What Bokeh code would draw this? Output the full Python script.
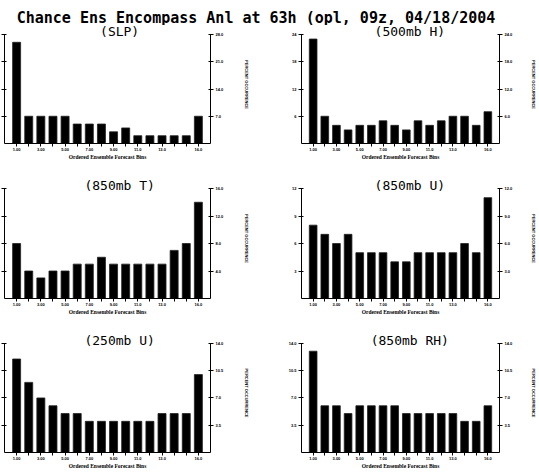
from bokeh.plotting import figure
from bokeh.models import Label, LinearAxis, FixedTicker, Range1d, NumeralTickFormatter, CustomJSTickFormatter
from bokeh.layouts import column, row
from bokeh.embed import file_html
from bokeh.resources import INLINE

# ---------------- data ----------------
main_title = "Chance Ens Encompass Anl at 63h (opl, 09z, 04/18/2004"
bins = list(range(1, 17))
x_tick_labels = {1: "1.00", 3: "3.00", 5: "5.00", 7: "7.00", 9: "9.00",
                 11: "11.0", 13: "13.0", 16: "16.0"}
x_axis_title = "Ordered Ensemble Forecast Bins"
y_axis_title = "PERCENT OCCURRENCE"

names = ["(SLP)", "(500mb H)", "(850mb T)", "(850mb U)", "(250mb U)", "(850mb RH)"]

slp = [26, 7, 7, 7, 7, 5, 5, 5, 3, 4, 2, 2, 2, 2, 2, 7]
h500 = [23, 6, 4, 3, 4, 4, 5, 4, 3, 5, 4, 5, 6, 6, 4, 7]
t850 = [8, 4, 3, 4, 4, 5, 5, 6, 5, 5, 5, 5, 5, 7, 8, 14]
u850 = [8, 7, 6, 7, 5, 5, 5, 4, 4, 5, 5, 5, 5, 6, 5, 11]
u250 = [12, 9, 7, 6, 5, 5, 4, 4, 4, 4, 4, 4, 5, 5, 5, 10]
rh850 = [13, 6, 6, 5, 6, 6, 6, 6, 5, 5, 5, 5, 5, 4, 4, 6]

slp_ticks = [7, 14, 21, 28]
h500_ticks = [6, 12, 18, 24]
t850_ticks = [4, 8, 12, 16]
u850_ticks = [3, 6, 9, 12]
u250_ticks = [3.5, 7, 10.5, 14]
rh850_ticks = [3.5, 7, 10.5, 14]

series = [slp, h500, t850, u850, u250, rh850]
ticks = [slp_ticks, h500_ticks, t850_ticks, u850_ticks, u250_ticks, rh850_ticks]
left_formats = ["0", "0", "0", "0", "0.0", "0.0"]

# ---------------- style ----------------
TICK_FONT = "Liberation Sans"
ROW_H = [153, 155, 138]
BOTTOM = [35, 35, 18]
FRAME_H = [118, 120, 120]   # frame height in px (plot area + headroom for subtitle)
PLOT_H = [109, 110, 110]


def style_axis(ax, tick_out, tick_in, standoff):
    ax.major_label_text_font = TICK_FONT
    ax.major_label_text_font_style = "bold"
    ax.major_label_text_font_size = "4px"
    ax.major_label_text_color = "black"
    ax.major_label_standoff = standoff
    ax.major_tick_out = tick_out
    ax.major_tick_in = tick_in
    ax.minor_tick_line_color = None
    ax.axis_line_color = "black"
    ax.major_tick_line_color = "black"


def make_panel(i):
    col = i % 2
    r = i // 2
    counts = series[i]
    yt = ticks[i]
    ymax = yt[-1]
    if col == 0:
        w, mbl, mbr, sub_x, ylab_standoff = 270, 4, 60, 9.5, 18
    else:
        w, mbl, mbr, sub_x, ylab_standoff = 269, 31, 32, 9.3, 16
    p = figure(width=w, height=ROW_H[r], x_range=Range1d(0, 17),
               y_range=Range1d(0, ymax * FRAME_H[r] / PLOT_H[r]),
               toolbar_location=None, output_backend="svg", title=None,
               min_border_left=mbl, min_border_right=mbr, min_border_top=0,
               min_border_bottom=BOTTOM[r], outline_line_color=None,
               background_fill_color="white", border_fill_color="white")
    p.xgrid.visible = False
    p.ygrid.visible = False

    p.vbar(x=bins, top=counts, bottom=0, width=0.66,
           fill_color="black", line_color="#222222", line_width=0.8)

    # x axis
    xa = p.xaxis[0]
    xa.ticker = FixedTicker(ticks=bins)
    xa.major_label_overrides = {b: x_tick_labels.get(b, "") for b in bins}
    style_axis(xa, 3, 0, 1)
    xa.axis_label = x_axis_title
    xa.axis_label_text_font = "Liberation Serif"
    xa.axis_label_text_font_style = "bold"
    xa.axis_label_text_font_size = "5.5px"
    xa.axis_label_text_color = "black"
    xa.axis_label_standoff = 0

    # left axis
    ya = p.yaxis[0]
    ya.ticker = FixedTicker(ticks=yt)
    ya.bounds = (0, ymax)
    if col == 0:
        ya.formatter = CustomJSTickFormatter(code="return ''")
        style_axis(ya, 3, 2, 0)
    else:
        ya.formatter = NumeralTickFormatter(format=left_formats[i])
        style_axis(ya, 3, 2, 2)

    # right axis
    ra = LinearAxis(ticker=FixedTicker(ticks=yt), formatter=NumeralTickFormatter(format="0.0"),
                    axis_label=y_axis_title, bounds=(0, ymax))
    style_axis(ra, 3, 2, 2)
    ra.axis_label_text_font = TICK_FONT
    ra.axis_label_text_font_style = "bold"
    ra.axis_label_text_font_size = "4px"
    ra.axis_label_text_color = "black"
    ra.axis_label_standoff = ylab_standoff
    p.add_layout(ra, "right")

    p.add_layout(Label(x=sub_x, y=ymax, y_offset=3, text=names[i], text_align="center",
                       text_baseline="alphabetic", text_font="DejaVu Sans Mono",
                       text_font_size="13px", text_color="black"))
    return p


strip = figure(width=539, height=25, x_range=Range1d(0, 539), y_range=Range1d(0, 25),
               toolbar_location=None, output_backend="svg", title=None,
               min_border=0, outline_line_color=None, x_axis_type=None, y_axis_type=None)
strip.grid.visible = False
strip.add_layout(Label(x=255.5, y=8, text=main_title, text_align="center",
                       text_baseline="alphabetic", text_font="DejaVu Sans Mono",
                       text_font_style="bold", text_font_size="15px", text_color="black"))

panels = [make_panel(i) for i in range(6)]
layout = column(strip, row(panels[0], panels[1]), row(panels[2], panels[3]),
                row(panels[4], panels[5]))

open("out.html", "w").write(file_html(layout, INLINE))
